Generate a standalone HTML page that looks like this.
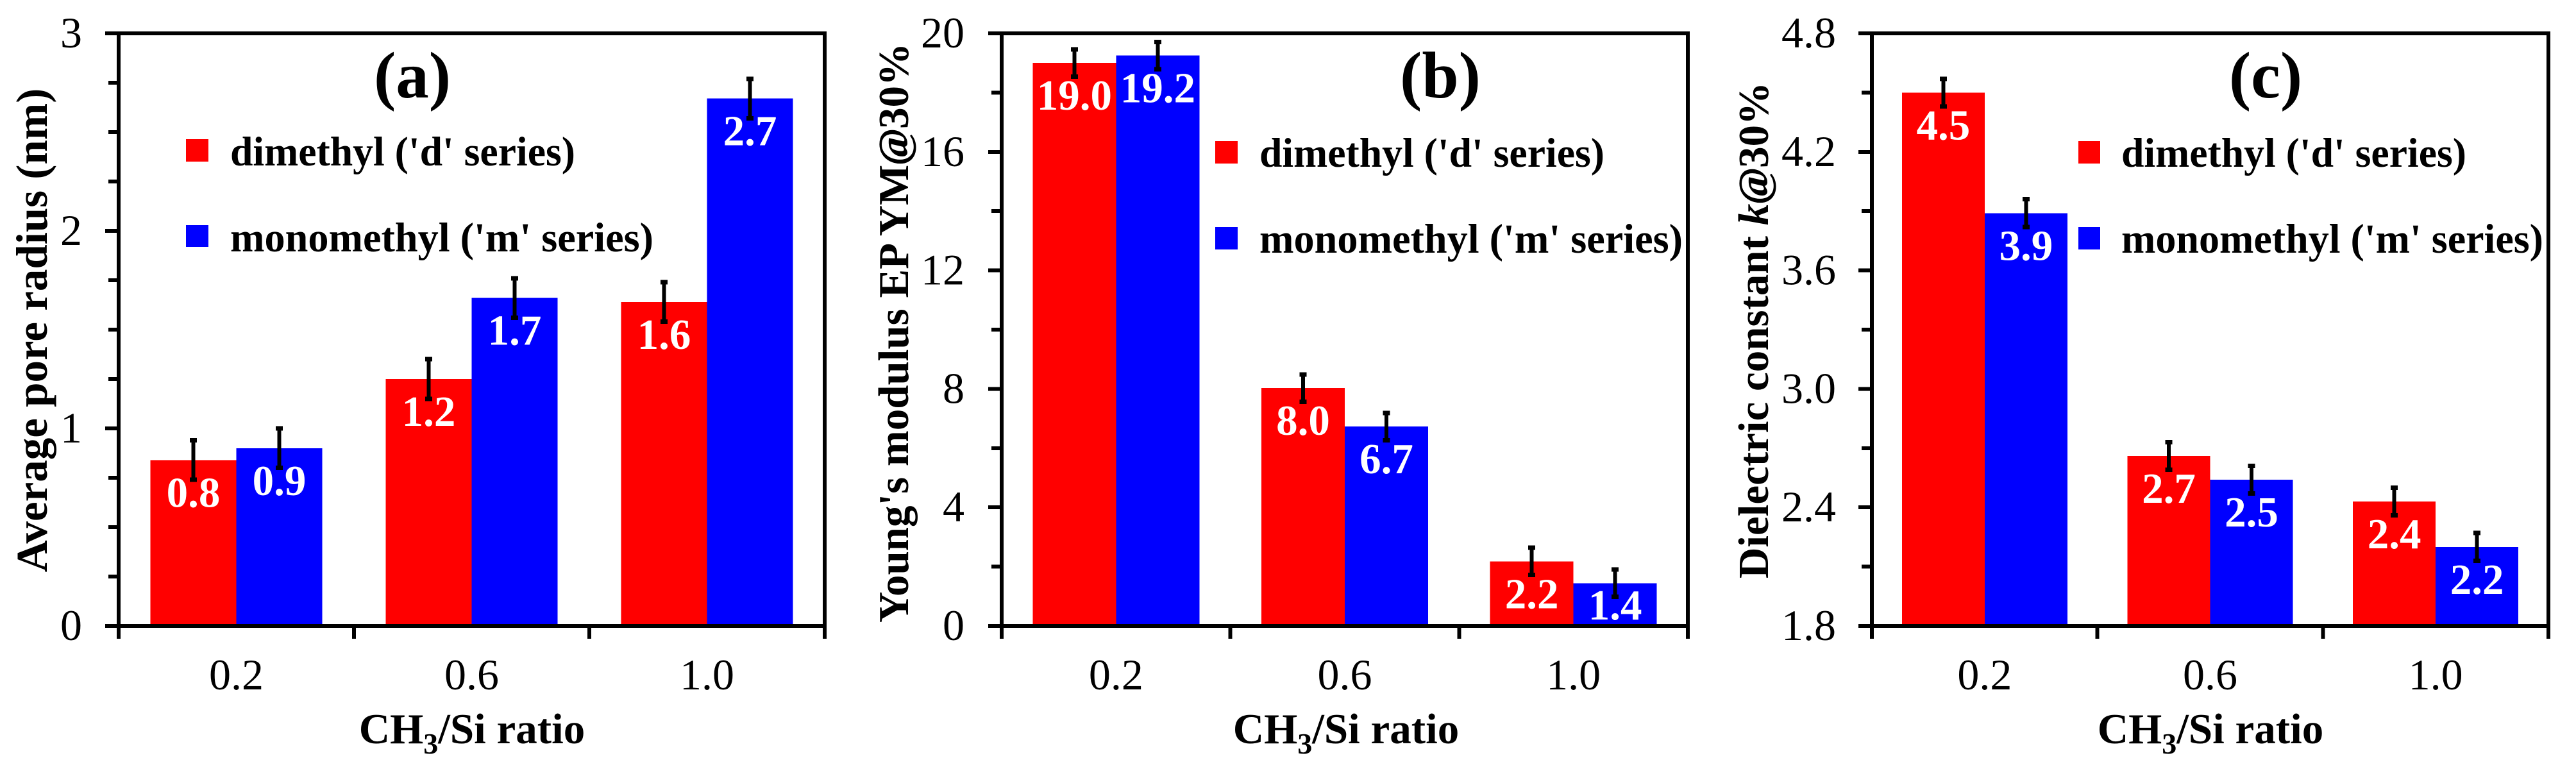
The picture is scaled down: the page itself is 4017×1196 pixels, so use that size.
<!DOCTYPE html>
<html lang="en">
<head>
<meta charset="utf-8">
<title>Pore radius, Young's modulus and dielectric constant vs CH3/Si ratio</title>
<style>
html,body{margin:0;padding:0;background:#fff;width:4017px;height:1196px;overflow:hidden}
svg{display:block}
text{font-family:"Liberation Serif","Times New Roman",serif;fill:#000}
.tick{font-size:68px}
.title{font-size:67px;font-weight:bold}
.title-a{font-size:69px}
.legend{font-size:65px;font-weight:bold}
.letter{font-size:103px;font-weight:bold}
.value{font-size:67px;font-weight:bold;fill:#fff;text-anchor:middle}
</style>
</head>
<body>
<svg id="figure" xmlns="http://www.w3.org/2000/svg" width="4017" height="1196" viewBox="0 0 4017 1196">
  <rect x="0" y="0" width="4017" height="1196" fill="#fff"/>

  <g id="panel-a"></g>
  <g id="panel-b"></g>
  <g id="panel-c"></g>

  <g>
    <text class="letter" x="643" y="152" text-anchor="middle">(a)</text>
    <rect x="290" y="217" width="35" height="35" fill="#ff0000"/>
    <text class="legend" x="359" y="258" textLength="538" lengthAdjust="spacingAndGlyphs">dimethyl ('d' series)</text>
    <rect x="290" y="351" width="35" height="34" fill="#0000ff"/>
    <text class="legend" x="359" y="392" textLength="660" lengthAdjust="spacingAndGlyphs">monomethyl ('m' series)</text>
    <text class="title title-a" text-anchor="middle" transform="translate(73 515) rotate(-90)">Average pore radius (nm)</text>
    <text class="title" text-anchor="middle" x="736" y="1159">CH<tspan font-size="46" dy="16">3</tspan><tspan dy="-16">/Si ratio</tspan></text>
  </g>

  <g>
    <text class="letter" x="2246" y="152" text-anchor="middle">(b)</text>
    <rect x="1895" y="220" width="35" height="35" fill="#ff0000"/>
    <text class="legend" x="1964" y="260" textLength="538" lengthAdjust="spacingAndGlyphs">dimethyl ('d' series)</text>
    <rect x="1895" y="354" width="35" height="35" fill="#0000ff"/>
    <text class="legend" x="1964" y="394" textLength="660" lengthAdjust="spacingAndGlyphs">monomethyl ('m' series)</text>
    <text class="title" text-anchor="middle" transform="translate(1416 519) rotate(-90)">Young's modulus EP YM<tspan font-style="italic">@</tspan>30%</text>
    <text class="title" text-anchor="middle" x="2099" y="1159">CH<tspan font-size="46" dy="16">3</tspan><tspan dy="-16">/Si ratio</tspan></text>
  </g>

  <g>
    <text class="letter" x="3533" y="152" text-anchor="middle">(c)</text>
    <rect x="3241" y="220" width="34" height="35" fill="#ff0000"/>
    <text class="legend" x="3308" y="260" textLength="538" lengthAdjust="spacingAndGlyphs">dimethyl ('d' series)</text>
    <rect x="3241" y="354" width="34" height="35" fill="#0000ff"/>
    <text class="legend" x="3308" y="394" textLength="658" lengthAdjust="spacingAndGlyphs">monomethyl ('m' series)</text>
    <text class="title" text-anchor="middle" transform="translate(2757 515) rotate(-90)">Dielectric constant <tspan font-style="italic">k@</tspan>30%</text>
    <text class="title" text-anchor="middle" x="3447" y="1159">CH<tspan font-size="46" dy="16">3</tspan><tspan dy="-16">/Si ratio</tspan></text>
  </g>
</svg>

<script>
// Shared category labels
var categories = ['0.2', '0.6', '1.0'];

// Panel (a): average pore radius (nm)
var poreDimethyl = [0.84, 1.25, 1.64];
var poreMonomethyl = [0.90, 1.66, 2.67];
var poreDimethylLabels = ['0.8', '1.2', '1.6'];
var poreMonomethylLabels = ['0.9', '1.7', '2.7'];
var poreErrors = [0.10, 0.10, 0.10];
var poreMajorTicks = ['0', '1', '2', '3'];
var poreMinorTicks = [0.25, 0.5, 0.75, 1.25, 1.5, 1.75, 2.25, 2.5, 2.75];

// Panel (b): Young's modulus EP YM@30%
var modulusDimethyl = [19.0, 8.03, 2.18];
var modulusMonomethyl = [19.25, 6.73, 1.44];
var modulusDimethylLabels = ['19.0', '8.0', '2.2'];
var modulusMonomethylLabels = ['19.2', '6.7', '1.4'];
var modulusErrors = [0.46, 0.46, 0.46];
var modulusMajorTicks = ['0', '4', '8', '12', '16', '20'];
var modulusMinorTicks = [2, 6, 10, 14, 18];

// Panel (c): dielectric constant k@30%
var dielectricDimethyl = [4.50, 2.66, 2.43];
var dielectricMonomethyl = [3.89, 2.54, 2.20];
var dielectricDimethylLabels = ['4.5', '2.7', '2.4'];
var dielectricMonomethylLabels = ['3.9', '2.5', '2.2'];
var dielectricErrors = [0.07, 0.07, 0.07];
var dielectricMajorTicks = ['1.8', '2.4', '3.0', '3.6', '4.2', '4.8'];
var dielectricMinorTicks = [2.1, 2.7, 3.3, 3.9, 4.5];

var SVG_NS = 'http://www.w3.org/2000/svg';
var PLOT_TOP = 52;
var PLOT_BOTTOM = 976;
var AXIS_WIDTH = 6;
var LABEL_DROP = 73;
var LABEL_LOWEST = 966;

function make(tag, parent) {
  var el = document.createElementNS(SVG_NS, tag);
  parent.appendChild(el);
  return el;
}

function drawLine(parent, x1, y1, x2, y2, width) {
  var el = make('line', parent);
  el.setAttribute('x1', x1);
  el.setAttribute('y1', y1);
  el.setAttribute('x2', x2);
  el.setAttribute('y2', y2);
  el.setAttribute('stroke', '#000');
  el.setAttribute('stroke-width', width);
  return el;
}

function drawPanel(panelId, left, right, yMin, yMax, barWidth, tickRight, d, m, dLabels, mLabels, errors, majorTicks, minorTicks) {
  var root = document.getElementById(panelId);
  var band = (right - left) / categories.length;

  function xCenter(i) { return left + band * (i + 0.5); }
  function yPos(v) { return PLOT_BOTTOM - (v - yMin) / (yMax - yMin) * (PLOT_BOTTOM - PLOT_TOP); }

  function drawBar(i, value, offset, fill, seriesName) {
    var el = make('rect', root);
    var top = yPos(value);
    el.setAttribute('x', xCenter(i) + offset);
    el.setAttribute('y', top);
    el.setAttribute('width', barWidth);
    el.setAttribute('height', PLOT_BOTTOM - top);
    el.setAttribute('fill', fill);
    el.setAttribute('shape-rendering', 'crispEdges');
    
    
  }

  function drawValue(i, value, offset, label, seriesName) {
    var el = make('text', root);
    el.setAttribute('class', 'value');
    el.setAttribute('x', xCenter(i) + offset + barWidth / 2);
    el.setAttribute('y', Math.min(yPos(value) + LABEL_DROP, LABEL_LOWEST));
    el.textContent = label;
    
    
  }

  function drawError(i, value, err, offset, seriesName) {
    var g = make('g', root);
    
    
    g.setAttribute('shape-rendering', 'crispEdges');
    var cx = xCenter(i) + offset + barWidth / 2;
    var hi = yPos(value + err);
    var lo = yPos(value - err);
    drawLine(g, cx, hi, cx, lo, 6);
    drawLine(g, cx - 5.5, hi, cx + 5.5, hi, 7);
    drawLine(g, cx - 5.5, lo, cx + 5.5, lo, 7);
  }

  categories.forEach(function (cat, i) {
    drawBar(i, d[i], -barWidth, '#ff0000', 'dimethyl');
    drawBar(i, m[i], 0, '#0000ff', 'monomethyl');
  });
  categories.forEach(function (cat, i) {
    drawValue(i, d[i], -barWidth, dLabels[i], 'dimethyl');
    drawValue(i, m[i], 0, mLabels[i], 'monomethyl');
  });
  categories.forEach(function (cat, i) {
    drawError(i, d[i], errors[i], -barWidth, 'dimethyl');
    drawError(i, m[i], errors[i], 0, 'monomethyl');
  });

  var axes = make('g', root);
  
  
  axes.setAttribute('shape-rendering', 'crispEdges');

  var spineTop = drawLine(axes, left - 21, PLOT_TOP, right + 3, PLOT_TOP, AXIS_WIDTH);
  
  

  var spineBottom = drawLine(axes, left - 21, PLOT_BOTTOM, right + 3, PLOT_BOTTOM, AXIS_WIDTH);
  
  

  var spineLeft = drawLine(axes, left, PLOT_TOP - 3, left, PLOT_BOTTOM + 20, AXIS_WIDTH);
  
  

  var spineRight = drawLine(axes, right, PLOT_TOP - 3, right, PLOT_BOTTOM + 20, AXIS_WIDTH);
  
  

  // x ticks at band boundaries, labels at band centres
  categories.forEach(function (cat, i) {
    if (i > 0) {
      var t = drawLine(axes, left + band * i, PLOT_BOTTOM, left + band * i, PLOT_BOTTOM + 20, AXIS_WIDTH);
      
      
    }
    var lab = make('text', root);
    lab.setAttribute('class', 'tick');
    lab.setAttribute('text-anchor', 'middle');
    lab.setAttribute('x', xCenter(i));
    lab.setAttribute('y', 1075);
    lab.textContent = cat;
    
    
  });

  majorTicks.forEach(function (label) {
    var y = yPos(parseFloat(label));
    var t = drawLine(axes, left - 21, y, left, y, AXIS_WIDTH);
    
    
    var lab = make('text', root);
    lab.setAttribute('class', 'tick');
    lab.setAttribute('text-anchor', 'end');
    lab.setAttribute('x', tickRight);
    lab.setAttribute('y', y + 22);
    lab.textContent = label;
    
    
  });

  minorTicks.forEach(function (value) {
    var y = yPos(value);
    var t = drawLine(axes, left - 16, y, left, y, AXIS_WIDTH);
    
    
  });
}

drawPanel('panel-a', 185, 1286, 0, 3, 134, 128, poreDimethyl, poreMonomethyl, poreDimethylLabels, poreMonomethylLabels, poreErrors, poreMajorTicks, poreMinorTicks);
drawPanel('panel-b', 1562, 2632, 0, 20, 130, 1504, modulusDimethyl, modulusMonomethyl, modulusDimethylLabels, modulusMonomethylLabels, modulusErrors, modulusMajorTicks, modulusMinorTicks);
drawPanel('panel-c', 2919, 3974, 1.8, 4.8, 129, 2863, dielectricDimethyl, dielectricMonomethyl, dielectricDimethylLabels, dielectricMonomethylLabels, dielectricErrors, dielectricMajorTicks, dielectricMinorTicks);
</script>
</body>
</html>
